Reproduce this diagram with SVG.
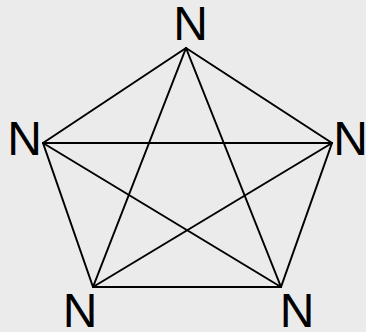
<svg xmlns="http://www.w3.org/2000/svg" width="366" height="332" viewBox="0 0 366 332">
<style>
.e{stroke:#000;stroke-width:2;fill:none;stroke-linecap:round}
.l{font-family:"Liberation Sans",Arial,sans-serif;font-size:48px;fill:#000;text-anchor:middle}
</style>
<rect width="366" height="332" fill="#ebebeb"/>
<g id="edges">
<line class="e" x1="186" y1="48" x2="43" y2="143"/>
<line class="e" x1="186" y1="48" x2="332" y2="143"/>
<line class="e" x1="186" y1="48" x2="93" y2="287"/>
<line class="e" x1="186" y1="48" x2="281" y2="287"/>
<line class="e" x1="43" y1="143" x2="332" y2="143"/>
<line class="e" x1="43" y1="143" x2="93" y2="287"/>
<line class="e" x1="43" y1="143" x2="281" y2="287"/>
<line class="e" x1="332" y1="143" x2="93" y2="287"/>
<line class="e" x1="332" y1="143" x2="281" y2="287"/>
<line class="e" x1="93" y1="287" x2="281" y2="287"/>
</g>
<g id="n1"><text class="l" x="190.5" y="40">N</text></g>
<g id="n2"><text class="l" x="24.5" y="155">N</text></g>
<g id="n3"><text class="l" x="350.5" y="155">N</text></g>
<g id="n4"><text class="l" x="80" y="327">N</text></g>
<g id="n5"><text class="l" x="297" y="327">N</text></g>
</svg>
